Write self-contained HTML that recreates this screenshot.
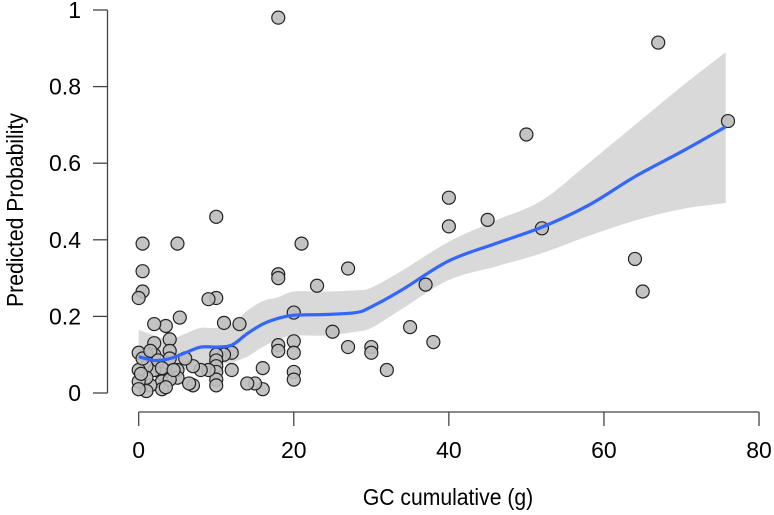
<!DOCTYPE html>
<html><head><meta charset="utf-8"><style>
body{margin:0;background:#fff}
svg{display:block;font-family:"Liberation Sans",Arial,sans-serif}
</style></head><body>
<svg id="chart" width="774" height="515" viewBox="0 0 774 515" xmlns="http://www.w3.org/2000/svg">
<g id="band"></g>
<g id="pts"></g>
<g id="line"></g>
<g id="axes"></g>
<text x="448" y="505" font-size="23" text-anchor="middle" fill="#000" transform="translate(448,0) scale(0.92,1) translate(-448,0)">GC cumulative (g)</text>
<text transform="translate(23,210) rotate(-90) scale(0.92,1)" font-size="23" text-anchor="middle" fill="#000">Predicted Probability</text>
</svg>
<script>
const pointX=[18,67,76,50,40,40,45,52,64,65,37,35,38,32,30,30,27,27,25,23,21,20,20,20,20,20,18,18,18,18,16,16,15,14,13,12,12,11,11,10,10,10,10,10,10,10,10,9,9,8,7,7,6.5,5,5.3,5,5,4,4,4,3.5,3,3,3,2,2,2,2,1.5,1,1,1,1,0.5,0.5,0.5,0,0,0,0,0,0.3,0.5,1.5,2.5,3,4,4.5,3.5,6];
const pointY=[0.98,0.915,0.71,0.675,0.51,0.435,0.452,0.43,0.35,0.265,0.283,0.172,0.133,0.06,0.12,0.105,0.325,0.12,0.16,0.28,0.39,0.21,0.135,0.105,0.055,0.035,0.31,0.3,0.125,0.11,0.065,0.01,0.025,0.025,0.18,0.105,0.06,0.183,0.1,0.46,0.248,0.1,0.085,0.07,0.055,0.035,0.02,0.245,0.06,0.06,0.07,0.02,0.025,0.39,0.197,0.06,0.04,0.14,0.11,0.09,0.175,0.05,0.03,0.01,0.18,0.13,0.1,0.06,0.02,0.1,0.07,0.04,0.005,0.39,0.318,0.265,0.248,0.105,0.06,0.03,0.01,0.05,0.09,0.11,0.085,0.065,0.035,0.06,0.015,0.09];
const fitX=[0,2,4,6,8,10,12,14,16,18,20,24,28,30,34,40,46,52,58,64,70,75.7];
const fitY=[0.095,0.085,0.09,0.105,0.12,0.12,0.125,0.155,0.18,0.195,0.203,0.205,0.21,0.225,0.27,0.345,0.39,0.433,0.49,0.565,0.63,0.695];
const fitUpper=[0.165,0.15,0.14,0.155,0.17,0.17,0.18,0.215,0.24,0.25,0.265,0.265,0.268,0.275,0.32,0.395,0.45,0.503,0.6,0.7,0.8,0.89];
const fitLower=[0.068,0.055,0.05,0.06,0.075,0.075,0.08,0.095,0.12,0.14,0.15,0.15,0.16,0.17,0.22,0.295,0.33,0.365,0.41,0.45,0.48,0.496];
const xTicks=[0,20,40,60,80];
const yTicks=[0,0.2,0.4,0.6,0.8,1];
const yTickLabels=["0","0.2","0.4","0.6","0.8","1"];
const sx=v=>138.7+v*7.754, sy=v=>393-v*383;
const NS="http://www.w3.org/2000/svg";
function mk(tag,attrs,parent){const e=document.createElementNS(NS,tag);for(const k in attrs)e.setAttribute(k,attrs[k]);parent.appendChild(e);return e;}
function smooth(P,start){let d=start?"M"+P[0][0]+","+P[0][1]:"L"+P[0][0]+","+P[0][1];
for(let i=0;i<P.length-1;i++){const p0=P[Math.max(i-1,0)],p1=P[i],p2=P[i+1],p3=P[Math.min(i+2,P.length-1)];
d+="C"+(p1[0]+(p2[0]-p0[0])/6)+","+(p1[1]+(p2[1]-p0[1])/6)+" "+(p2[0]-(p3[0]-p1[0])/6)+","+(p2[1]-(p3[1]-p1[1])/6)+" "+p2[0]+","+p2[1];}
return d;}
const up=fitX.map((x,i)=>[sx(x),sy(fitUpper[i])]);
const lo=fitX.map((x,i)=>[sx(x),sy(fitLower[i])]).reverse();
const band=mk("path",{d:smooth(up,true)+smooth(lo,false)+"Z",fill:"#d9d9d9"},document.getElementById("band"));


const pg=document.getElementById("pts");
pointX.forEach((x,i)=>{const c=mk("circle",{cx:sx(x),cy:sy(pointY[i]),r:6.5,fill:"#bdbdbd","fill-opacity":0.9,stroke:"#222","stroke-width":1.2},pg);

});
const ln=mk("path",{d:smooth(fitX.map((x,i)=>[sx(x),sy(fitY[i])]),true),fill:"none",stroke:"#3366ff","stroke-width":3.2,"stroke-linejoin":"round"},document.getElementById("line"));


const ax=document.getElementById("axes");
mk("line",{x1:sx(0),x2:sx(80),y1:412,y2:412,stroke:"#444","stroke-width":1.3},ax);
mk("line",{x1:107.5,x2:107.5,y1:sy(0),y2:sy(1),stroke:"#444","stroke-width":1.3},ax);
xTicks.forEach(t=>{mk("line",{x1:sx(t),x2:sx(t),y1:412,y2:426,stroke:"#444","stroke-width":1.3},ax);
const tx=mk("text",{x:sx(t),y:458,"font-size":23,"text-anchor":"middle"},ax);tx.textContent=t;

});
yTicks.forEach((t,i)=>{mk("line",{x1:93,x2:107.5,y1:sy(t),y2:sy(t),stroke:"#444","stroke-width":1.3},ax);
const tx=mk("text",{x:81,y:sy(t)+8,"font-size":23,"text-anchor":"end"},ax);tx.textContent=yTickLabels[i];

});
</script>
</body></html>
